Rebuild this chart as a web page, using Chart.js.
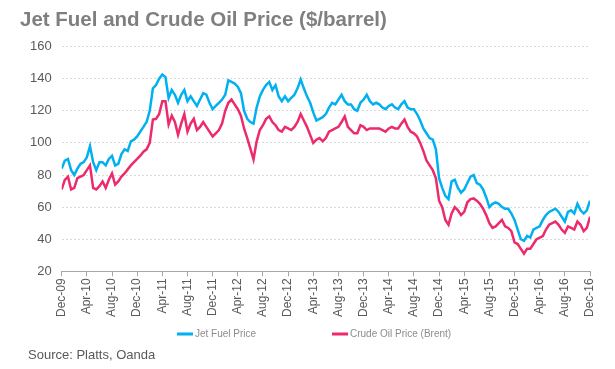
<!DOCTYPE html>
<html>
<head>
<meta charset="utf-8">
<script src="https://cdn.jsdelivr.net/npm/chart.js@4/dist/chart.umd.min.js"></script>
<style>
  html, body { margin: 0; padding: 0; background: #ffffff; }
  #wrap { width: 615px; height: 369px; }
</style>
</head>
<body>
<div id="wrap"><canvas id="chart-1"></canvas></div>
<script>
// tick labels, one every 4 months (Dec-09 .. Dec-16)
const tickLabels = ["Dec-09", "Apr-10", "Aug-10", "Dec-10", "Apr-11", "Aug-11", "Dec-11",
  "Apr-12", "Aug-12", "Dec-12", "Apr-13", "Aug-13", "Dec-13", "Apr-14", "Aug-14",
  "Dec-14", "Apr-15", "Aug-15", "Dec-15", "Apr-16", "Aug-16", "Dec-16"];

// half-month readings, Dec-09 to Dec-16 ($/barrel)
const jetFuel = [
  84, 89, 90, 83, 80, 84, 87, 88, 91, 98, 88, 83, 88, 88, 86, 90, 92, 86, 87, 93,
  96, 95, 101, 102, 104, 107, 110, 113, 120, 134, 136, 140, 142.6, 141, 128, 133, 130, 125, 130, 133,
  126, 129, 126, 123, 127, 131, 130, 125, 121, 123, 125, 127, 130, 139, 138, 137, 135, 131, 120, 115,
  113, 112, 122, 129, 133, 136, 138, 133, 136, 129, 126, 129, 126, 128, 130, 134, 139.5, 134, 129, 125,
  119, 114, 115, 116, 118, 122, 125, 124, 127, 130, 126, 124, 124, 121, 120, 125, 127, 130, 126, 124,
  125, 124, 122, 121, 123, 124, 122, 121, 124, 126, 122, 121, 121, 118, 114, 109, 106, 103, 102, 96,
  78, 72, 67, 65, 76, 77, 72, 69, 71, 75, 79, 80, 75, 74, 71, 66, 60, 62, 63, 62,
  60, 59, 59, 56, 52, 46, 40, 39, 42, 41, 46, 47, 48, 52, 55, 57, 58, 59, 57, 54,
  51, 57, 58, 56, 62, 58, 56, 58, 64
];
const crudeOil = [
  71, 77, 79, 71, 72, 78, 79, 80, 83, 86, 72, 71, 73, 76, 72, 77, 81, 74, 76, 79,
  81, 83.5, 86, 88, 90, 92, 94.5, 96, 100, 114.6, 115, 118, 126, 126, 111.5, 117, 113, 105, 112, 118,
  107, 112, 115, 108, 110, 113, 110, 107, 104, 106, 108, 112, 120, 125, 127, 124, 121, 117, 109, 103,
  96.5, 89.7, 101, 108, 111, 115, 116.5, 113, 111, 108, 107, 110, 109, 108, 110, 113, 118, 114, 110, 105,
  100, 102, 103, 101, 103, 107, 108, 109, 110, 113, 116.5, 110, 108, 106, 106, 111, 110, 108, 109, 109,
  109, 109, 108, 107, 109, 110, 109, 109, 112, 114.6, 110, 107, 106, 104, 100, 95, 89, 86, 83, 78,
  64, 60, 52, 49, 56, 60, 58, 55, 57, 63, 65, 65.4, 64, 62, 59, 55, 50, 47, 48, 50,
  52, 48, 47, 45, 38, 37, 34, 31, 34, 34, 37, 40, 41, 42, 46, 49, 50, 51, 49, 46,
  44, 48, 47, 46, 51, 49, 45, 47, 54
];

const seriesNames = ["Jet Fuel Price", "Crude Oil Price (Brent)"];
const seriesColors = ["#00B0F0", "#EC2A6C"];
const sourceText = "Source: Platts, Oanda";

const toPoints = (arr) => arr.map((v, i) => ({ x: i, y: v }));

// legend items and source line drawn below the axis
const footer = {
  id: "footer",
  afterDraw(chart) {
    const c = chart.ctx;
    c.save();
    const legendX = [177, 332];
    const legendY = 334;
    chart.data.datasets.forEach((ds, i) => {
      c.fillStyle = ds.borderColor;
      c.fillRect(legendX[i], legendY - 1.5, 16, 3);
      c.fillStyle = "#8C8C8C";
      c.font = "10px 'Liberation Sans'";
      c.textBaseline = "middle";
      c.textAlign = "left";
      c.fillText(ds.label, legendX[i] + 18, legendY);
    });
    c.fillStyle = "#595959";
    c.font = "13px 'Liberation Sans'";
    c.textBaseline = "middle";
    c.fillText(sourceText, 28, 355);
    c.restore();
  },
};

const ctx_1 = document.getElementById("chart-1");
new Chart(ctx_1, {
  type: "line",
  data: {
    datasets: [
      {
        label: seriesNames[0],
        data: toPoints(jetFuel),
        borderColor: seriesColors[0],
        backgroundColor: seriesColors[0],
        borderWidth: 2.5,
        pointRadius: 0,
        tension: 0,
      },
      {
        label: seriesNames[1],
        data: toPoints(crudeOil),
        borderColor: seriesColors[1],
        backgroundColor: seriesColors[1],
        borderWidth: 2.5,
        pointRadius: 0,
        tension: 0,
      },
    ],
  },
  plugins: [footer],
  options: {
    responsive: true,
    maintainAspectRatio: false,
    animation: { duration: 0 },
    layout: { padding: { left: 20, right: 25, top: 0, bottom: 50 } },
    plugins: {
      tooltip: { enabled: false },
      legend: { display: false },
      title: {
        display: true,
        text: "Jet Fuel and Crude Oil Price ($/barrel)",
        align: "start",
        color: "#7F7F7F",
        font: { family: "Liberation Sans", size: 20.5, weight: "bold" },
        padding: { top: 8, bottom: 14 },
      },
    },
    scales: {
      x: {
        type: "linear",
        min: 0,
        max: 168,
        ticks: {
          stepSize: 8,
          autoSkip: false,
          minRotation: 90,
          maxRotation: 90,
          color: "#595959",
          font: { family: "Liberation Sans", size: 12 },
          padding: 2,
          callback: (v) => tickLabels[v / 8],
        },
        grid: {
          drawOnChartArea: false,
          drawTicks: true,
          tickLength: 5,
          color: "#A6A6A6",
        },
        border: { display: true, color: "#A6A6A6", width: 1 },
      },
      y: {
        min: 20,
        max: 160,
        ticks: {
          stepSize: 20,
          color: "#595959",
          font: { family: "Liberation Sans", size: 13 },
          padding: 10,
        },
        grid: {
          drawTicks: false,
          color: "#D9D9D9",
        },
        border: { display: false, dash: [2, 2] },
      },
    },
  },
});
</script>
</body>
</html>
